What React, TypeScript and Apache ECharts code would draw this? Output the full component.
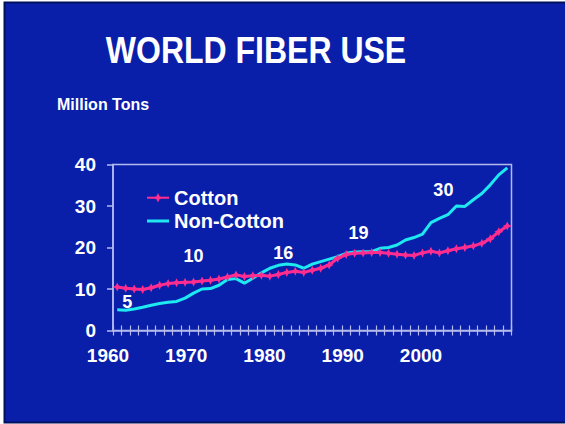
import { useEffect, useRef } from "react";
import * as echarts from "echarts";

// Years on the category axis (one category per year)
const years = [
  "1960", "1961", "1962", "1963", "1964", "1965", "1966", "1967", "1968", "1969",
  "1970", "1971", "1972", "1973", "1974", "1975", "1976", "1977", "1978", "1979",
  "1980", "1981", "1982", "1983", "1984", "1985", "1986", "1987", "1988", "1989",
  "1990", "1991", "1992", "1993", "1994", "1995", "1996", "1997", "1998", "1999",
  "2000", "2001", "2002", "2003", "2004", "2005", "2006",
];

// Million tons
const cotton = [
  10.5, 10.2, 10.0, 9.9, 10.3, 10.9, 11.3, 11.5, 11.6, 11.7,
  11.9, 12.1, 12.4, 12.9, 13.4, 13.0, 13.2, 13.3, 13.1, 13.5,
  14.0, 14.3, 14.0, 14.5, 15.0, 15.8, 17.4, 18.3, 18.6, 18.7,
  18.8, 18.8, 18.6, 18.4, 18.2, 18.1, 18.7, 19.1, 18.7, 19.2,
  19.7, 20.0, 20.4, 21.0, 22.1, 23.8, 25.2,
];

const nonCotton = [
  5.0, 4.9, 5.2, 5.6, 6.1, 6.5, 6.8, 7.0, 7.8, 9.0,
  10.0, 10.1, 10.9, 12.3, 12.5, 11.4, 12.6, 13.9, 15.0, 15.7,
  16.0, 15.8, 15.0, 16.0, 16.6, 17.2, 17.8, 18.6, 18.9, 19.0,
  19.0, 19.8, 20.0, 20.6, 21.8, 22.4, 23.2, 26.0, 27.0, 27.9,
  30.0, 29.9, 31.5, 33.0, 35.1, 37.5, 39.2,
];

// Years whose non-cotton value is written on the chart
const annotatedYears = ["1960", "1970", "1980", "1990", "2000"];

// Decade labels under the axis
const decadeMin = 1960;
const decadeMax = 2000;
const decadeStep = 10;

const yMin = 0;
const yMax = 40;
const yStep = 10;

const BG = "#0a1fa9";
const AXIS = "#b4bbec";
const PINK = "#ff2d8f";
const CYAN = "#1ee8f0";
const FONT = '"Liberation Sans", Arial, Helvetica, sans-serif';

// four-pointed star used as the cotton marker
const starSymbol =
  "path://M0,-4 L1.3,-1.3 L4,0 L1.3,1.3 L0,4 L-1.3,1.3 L-4,0 L-1.3,-1.3 Z";
// plain bar for the non-cotton legend entry
const barIcon = "path://M0,0 L22,0 L22,3 L0,3 Z";

export default function App() {
  const ref = useRef<HTMLDivElement>(null);

  useEffect(() => {
    if (!ref.current) return;
    const chart = echarts.init(ref.current, undefined, { renderer: "svg" });

    const labelOffsets: [number, number][] = [
      [10, -8],
      [-8.5, -33.5],
      [-3.5, -11.5],
      [-13, -18.5],
      [-13, -16.5],
    ];

    const markData = annotatedYears.map((y, k) => {
      const i = years.indexOf(y);
      return {
        coord: [y, nonCotton[i]],
        value: nonCotton[i],
        label: { offset: labelOffsets[k] },
      };
    });

    const plot = { left: 113, top: 164.5, right: 53.5, bottom: 93.5 };

    chart.setOption({
      animation: false,
      backgroundColor: "#ffffff",
      textStyle: { fontFamily: FONT },
      graphic: [
        {
          type: "rect",
          z: -10,
          shape: { x: 4.5, y: 2.5, width: 570, height: 420 },
          style: { fill: BG, stroke: "#00105a", lineWidth: 2 },
        },
        {
          type: "text",
          x: 256,
          y: 50,
          scaleY: 1.15,
          z: 10,
          style: {
            text: "WORLD FIBER USE",
            fill: "#ffffff",
            fontFamily: FONT,
            fontWeight: "bold",
            fontSize: 32,
            align: "center",
            verticalAlign: "middle",
          },
        },
        {
          type: "text",
          x: 57,
          y: 104,
          z: 10,
          style: {
            text: "Million Tons",
            fill: "#ffffff",
            fontFamily: FONT,
            fontWeight: "bold",
            fontSize: 16,
            align: "left",
            verticalAlign: "middle",
          },
        },
      ],
      legend: {
        orient: "vertical",
        left: 146,
        top: 187.7,
        padding: 0,
        itemGap: 3.3,
        itemWidth: 22,
        itemHeight: 12,
        data: [
          { name: "Cotton" },
          { name: "Non-Cotton", icon: barIcon },
        ],
        textStyle: {
          color: "#ffffff",
          fontFamily: FONT,
          fontWeight: "bold",
          fontSize: 20,
        },
      },
      grid: [
        {
          ...plot,
          show: true,
          borderColor: AXIS,
          borderWidth: 1.5,
          backgroundColor: "transparent",
        },
        // grid that only carries the decade labels
        { left: 108, width: 313, top: 164.5, bottom: 93.5 },
      ],
      xAxis: [
        {
          type: "category",
          gridIndex: 0,
          data: years,
          boundaryGap: true,
          axisLine: { lineStyle: { color: AXIS, width: 1.5 } },
          axisTick: {
            show: true,
            interval: 0,
            length: 5,
            lineStyle: { color: AXIS, width: 1.2 },
          },
          axisLabel: { show: false },
        },
        {
          type: "category",
          gridIndex: 0,
          position: "bottom",
          data: years,
          boundaryGap: true,
          axisLine: { show: false },
          axisTick: {
            show: true,
            inside: true,
            interval: 0,
            length: 5,
            lineStyle: { color: AXIS, width: 1.2 },
          },
          axisLabel: { show: false },
        },
        {
          type: "value",
          gridIndex: 1,
          min: decadeMin,
          max: decadeMax,
          interval: decadeStep,
          axisLine: { show: false },
          axisTick: { show: false },
          splitLine: { show: false },
          axisLabel: {
            show: true,
            showMinLabel: true,
            showMaxLabel: true,
            margin: 15,
            color: "#ffffff",
            fontFamily: FONT,
            fontWeight: "bold",
            fontSize: 19,
            formatter: (v: number) => String(v),
          },
        },
      ],
      yAxis: [
        {
          type: "value",
          gridIndex: 0,
          min: yMin,
          max: yMax,
          interval: yStep,
          axisLine: { show: true, lineStyle: { color: AXIS, width: 1.5 } },
          axisTick: {
            show: true,
            length: 6,
            lineStyle: { color: AXIS, width: 1.5 },
          },
          splitLine: { show: false },
          axisLabel: {
            margin: 17,
            color: "#ffffff",
            fontFamily: FONT,
            fontWeight: "bold",
            fontSize: 19,
          },
        },
        { type: "value", gridIndex: 1, show: false, min: yMin, max: yMax },
      ],
      series: [
        {
          name: "Non-Cotton",
          type: "line",
          xAxisIndex: 0,
          yAxisIndex: 0,
          data: nonCotton,
          showSymbol: false,
          symbol: "none",
          lineStyle: { color: CYAN, width: 3 },
          itemStyle: { color: CYAN },
          z: 3,
          markPoint: {
            symbol: "circle",
            symbolSize: 0,
            silent: true,
            itemStyle: { color: "transparent" },
            label: {
              show: true,
              position: "inside",
              color: "#ffffff",
              fontFamily: FONT,
              fontWeight: "bold",
              fontSize: 18,
              formatter: "{c}",
            },
            data: markData,
          },
        },
        {
          name: "Cotton",
          type: "line",
          xAxisIndex: 0,
          yAxisIndex: 0,
          data: cotton,
          symbol: starSymbol,
          symbolSize: 9,
          showSymbol: true,
          showAllSymbol: true,
          lineStyle: { color: PINK, width: 3 },
          itemStyle: { color: PINK },
          z: 4,
        },
      ],
    });

    return () => chart.dispose();
  }, []);

  return (
    <div
      ref={ref}
      style={{ position: "fixed", left: 0, top: 0, width: 565, height: 424 }}
    />
  );
}
